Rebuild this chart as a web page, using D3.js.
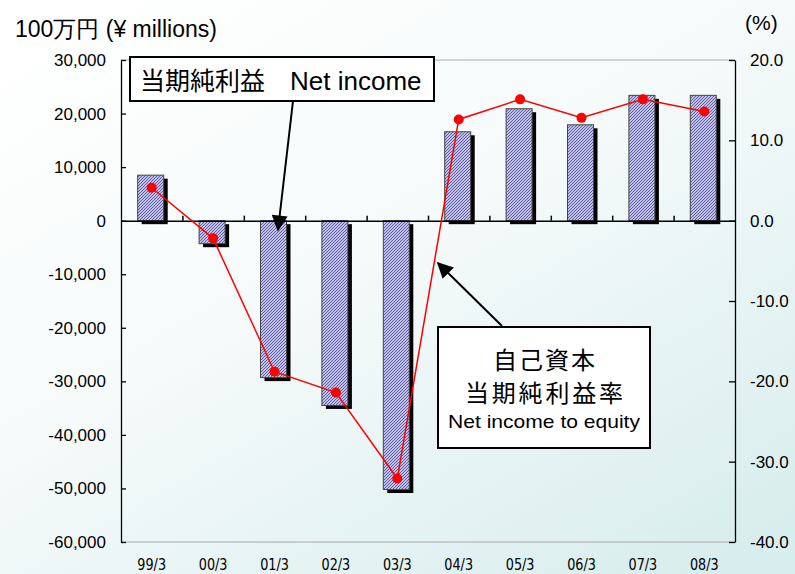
<!DOCTYPE html>
<html>
<head>
<meta charset="utf-8">
<script src="https://cdn.jsdelivr.net/npm/d3@7"></script>
<style>
  html, body { margin: 0; padding: 0; }
  body { width: 795px; height: 574px; overflow: hidden; }
  text { font-family: "Liberation Sans", Arial, sans-serif; fill: #000; }
  .cjk { font-family: "Noto Sans CJK JP", sans-serif; }
</style>
</head>
<body>
<script>
// 決算期
const years = ["99/3", "00/3", "01/3", "02/3", "03/3", "04/3", "05/3", "06/3", "07/3", "08/3"];
// 当期純利益 (100万円)
const netIncome = [8500, -4300, -29300, -34500, -50200, 16600, 20900, 17900, 23400, 23400];
// 自己資本当期純利益率 (%)
const roe = [4.1, -2.2, -18.8, -21.4, -32.1, 12.6, 15.1, 12.8, 15.1, 13.6];
// 目盛り
const leftTicks = [30000, 20000, 10000, 0, -10000, -20000, -30000, -40000, -50000, -60000];
const leftTickLabels = ["30,000", "20,000", "10,000", "0", "-10,000", "-20,000", "-30,000", "-40,000", "-50,000", "-60,000"];
const rightTicks = [20, 10, 0, -10, -20, -30, -40];
const rightTickLabels = ["20.0", "10.0", "0.0", "-10.0", "-20.0", "-30.0", "-40.0"];

const W = 795, H = 574;
const pL = 121, pR = 735, pT = 60, pB = 542;

const svg = d3.select("body").append("svg")
  .attr("width", W).attr("height", H);

const defs = svg.append("defs");
const bg = defs.append("linearGradient").attr("id", "bg")
  .attr("x1", 0.1).attr("y1", 0).attr("x2", 0.9).attr("y2", 1);
bg.append("stop").attr("offset", "0%").attr("stop-color", "#ffffff");
bg.append("stop").attr("offset", "45%").attr("stop-color", "#f5fafa");
bg.append("stop").attr("offset", "100%").attr("stop-color", "#d8eded");

const pat = defs.append("pattern").attr("id", "hatch")
  .attr("patternUnits", "userSpaceOnUse").attr("width", 3).attr("height", 3);
pat.append("rect").attr("width", 3).attr("height", 3).attr("fill", "#eeeefa");
pat.append("path").attr("d", "M-1,1 L1,-1 M0,3 L3,0 M2,4 L4,2")
  .attr("stroke", "#5a5aaa").attr("stroke-width", 1.2);

const mk = defs.append("marker").attr("id", "arrow")
  .attr("viewBox", "0 0 10 10").attr("refX", 9).attr("refY", 5)
  .attr("markerUnits", "userSpaceOnUse")
  .attr("markerWidth", 20).attr("markerHeight", 16).attr("orient", "auto");
mk.append("path").attr("d", "M0,0 L10,5 L0,10 Z").attr("fill", "#000");

svg.append("rect").attr("width", W).attr("height", H).attr("fill", "url(#bg)");

const x = d3.scaleBand().domain(years).range([pL, pR]);
const yL = d3.scaleLinear().domain([-60000, 30000]).range([pB, pT]);
const yR = d3.scaleLinear().domain([-40, 20]).range([pB, pT]);

// 枠
svg.append("line").attr("x1", pL).attr("x2", pR).attr("y1", pT).attr("y2", pT)
  .attr("stroke", "#aaaaaa").attr("stroke-width", 1.2);
svg.append("line").attr("x1", pL).attr("x2", pR).attr("y1", pB).attr("y2", pB)
  .attr("stroke", "#aaaaaa").attr("stroke-width", 1.2);

// 左軸
const axL = svg.append("g").attr("transform", `translate(${pL},0)`)
  .call(d3.axisLeft(yL).tickValues(leftTicks)
    .tickFormat((d, i) => leftTickLabels[i])
    .tickSizeInner(-5).tickSizeOuter(0).tickPadding(15));
axL.selectAll("text").style("font-family", "Liberation Sans, Arial, sans-serif").style("font-size", "17px");
axL.selectAll("line, path").attr("stroke", "#000").attr("stroke-width", 1.3);

// 右軸
const axR = svg.append("g").attr("transform", `translate(${pR},0)`)
  .call(d3.axisRight(yR).tickValues(rightTicks)
    .tickFormat((d, i) => rightTickLabels[i])
    .tickSizeInner(-6).tickSizeOuter(0).tickPadding(15));
axR.selectAll("text").style("font-family", "Liberation Sans, Arial, sans-serif").style("font-size", "17px");
axR.selectAll("line, path").attr("stroke", "#000").attr("stroke-width", 1.3);

// 棒 (影)
const bw = 26, off = -1;
svg.append("g").selectAll("rect").data(netIncome).join("rect")
  .attr("x", (d, i) => x(years[i]) + x.bandwidth() / 2 - bw / 2 + off + 4)
  .attr("y", d => Math.min(yL(d), yL(0)) + 3.5)
  .attr("width", bw)
  .attr("height", d => Math.abs(yL(d) - yL(0)))
  .attr("fill", "#000");

svg.append("g").selectAll("rect").data(netIncome).join("rect")
  .attr("x", (d, i) => x(years[i]) + x.bandwidth() / 2 - bw / 2 + off)
  .attr("y", d => Math.min(yL(d), yL(0)))
  .attr("width", bw)
  .attr("height", d => Math.abs(yL(d) - yL(0)))
  .attr("fill", "url(#hatch)")
  .attr("stroke", "#444").attr("stroke-width", 1);

// ゼロ線
const idx = d3.scaleLinear().domain([0, years.length]).range([pL, pR]);
const ax0 = svg.append("g").attr("transform", `translate(0,${yL(0)})`)
  .call(d3.axisTop(idx).tickValues(d3.range(1, years.length))
    .tickFormat("").tickSizeInner(5).tickSizeOuter(0));
ax0.selectAll("line, path").attr("stroke", "#000").attr("stroke-width", 1.5);

// ROE 折れ線
const cx = (d, i) => x(years[i]) + x.bandwidth() / 2;
svg.append("path").datum(roe)
  .attr("d", d3.line().x(cx).y(d => yR(d)))
  .attr("fill", "none").attr("stroke", "#ff0000").attr("stroke-width", 1.5);
svg.append("g").selectAll("circle").data(roe).join("circle")
  .attr("cx", cx).attr("cy", d => yR(d)).attr("r", 5)
  .attr("fill", "#ff0000");

// 年ラベル
svg.append("g").selectAll("text").data(years).join("text")
  .attr("transform", d => `translate(${x(d) + x.bandwidth() / 2},570) scale(0.8,1)`)
  .attr("text-anchor", "middle")
  .style("font-family", "DejaVu Sans, sans-serif")
  .style("font-size", "16px")
  .text(d => d);

// 単位
svg.append("text").attr("x", 15).attr("y", 37).style("font-size", "23px")
  .text("100万円 (¥ millions)");
svg.append("text").attr("x", 745).attr("y", 30).style("font-size", "21px")
  .text("(%)");

// 吹き出し1
svg.append("line").attr("x1", 293).attr("y1", 101).attr("x2", 278).attr("y2", 230)
  .attr("stroke", "#000").attr("stroke-width", 2).attr("marker-end", "url(#arrow)");
svg.append("rect").attr("x", 130).attr("y", 57).attr("width", 304).attr("height", 44)
  .attr("fill", "#fff").attr("stroke", "#000").attr("stroke-width", 2);
svg.append("text").attr("class", "cjk").attr("x", 140).attr("y", 90)
  .style("font-size", "25px").text("当期純利益");
svg.append("text").attr("x", 290).attr("y", 90)
  .style("font-size", "26px").text("Net income");

// 吹き出し2
svg.append("line").attr("x1", 502).attr("y1", 326).attr("x2", 438).attr("y2", 263)
  .attr("stroke", "#000").attr("stroke-width", 2).attr("marker-end", "url(#arrow)");
svg.append("rect").attr("x", 438).attr("y", 327).attr("width", 212).attr("height", 121)
  .attr("fill", "#fff").attr("stroke", "#000").attr("stroke-width", 2);
svg.append("text").attr("class", "cjk").attr("x", 544).attr("y", 369)
  .attr("text-anchor", "middle").style("font-size", "24px")
  .attr("textLength", 102).attr("lengthAdjust", "spacing").text("自己資本");
svg.append("text").attr("class", "cjk").attr("x", 544).attr("y", 402)
  .attr("text-anchor", "middle").style("font-size", "24px")
  .attr("textLength", 158).attr("lengthAdjust", "spacing").text("当期純利益率");
svg.append("text").attr("x", 544).attr("y", 428)
  .attr("text-anchor", "middle").style("font-size", "19px")
  .attr("textLength", 192).attr("lengthAdjust", "spacingAndGlyphs").text("Net income to equity");
</script>
</body>
</html>
